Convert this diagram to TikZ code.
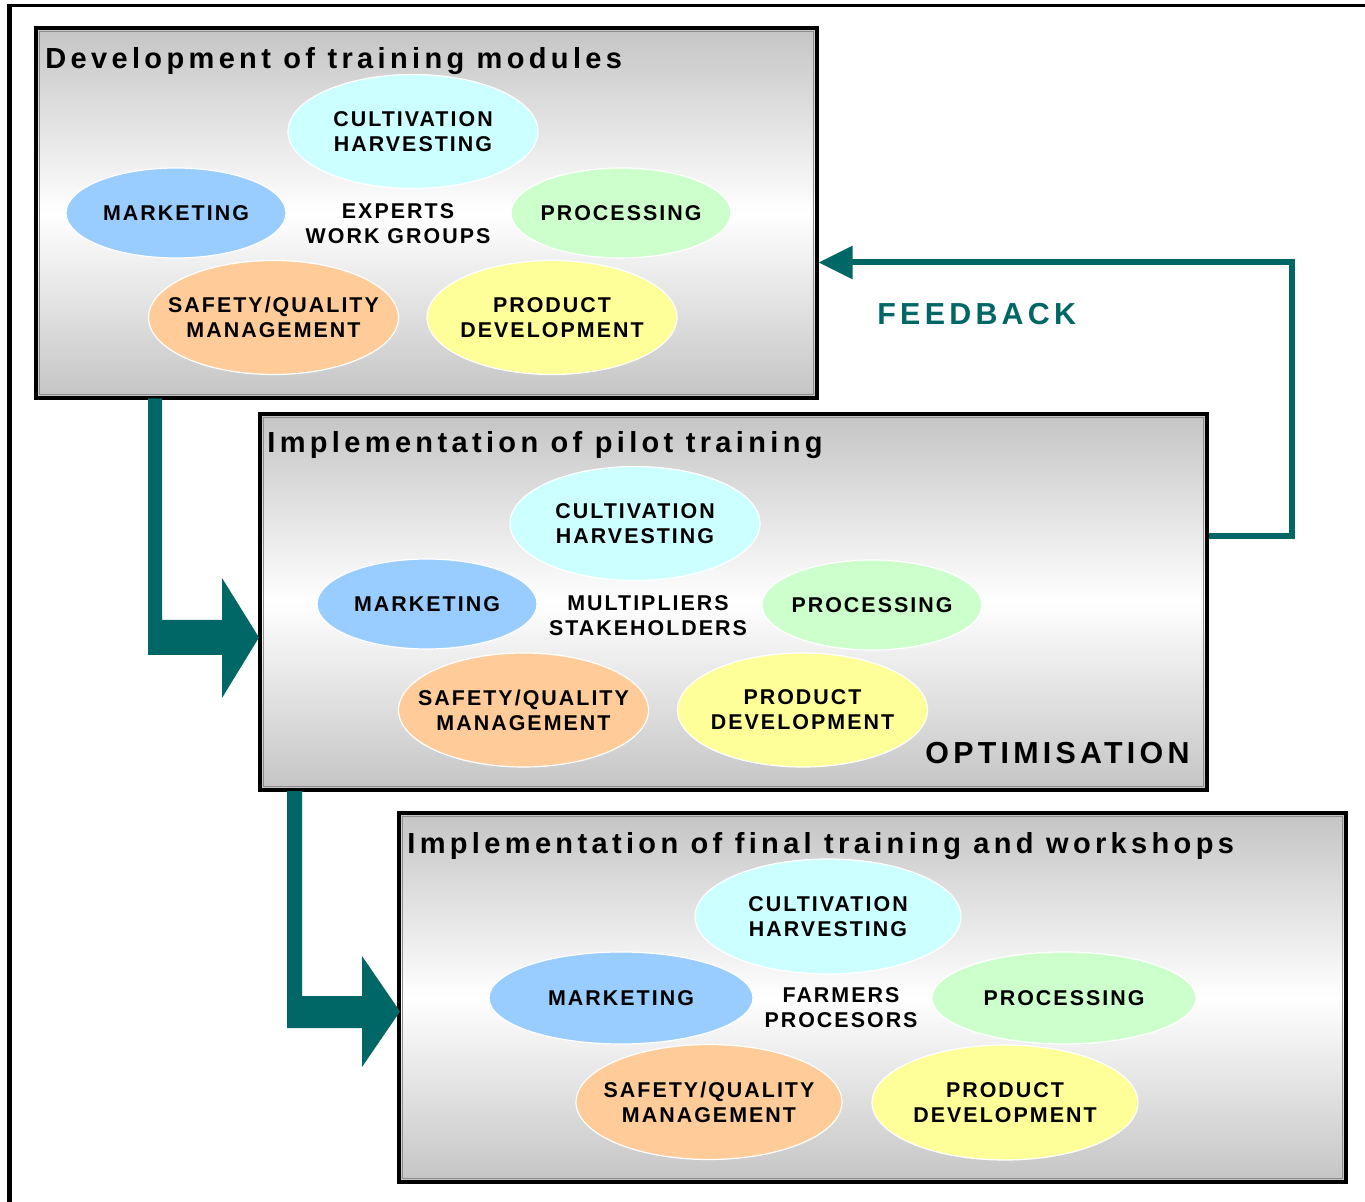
\documentclass[tikz,border=0pt]{standalone}
\usepackage{fontspec}
\setmainfont{Liberation Sans}
\newfontfamily\elfont[LetterSpace=9.5]{Liberation Sans}
\newfontfamily\ttlfont[LetterSpace=15]{Liberation Sans}
\newfontfamily\bigfont[LetterSpace=14]{Liberation Sans}
\usetikzlibrary{shapes.geometric,arrows.meta}
\definecolor{tealc}{RGB}{0,102,102}
\definecolor{cyanc}{RGB}{204,255,255}
\definecolor{bluec}{RGB}{153,204,255}
\definecolor{greenc}{RGB}{204,255,204}
\definecolor{orangec}{RGB}{255,204,153}
\definecolor{yellowc}{RGB}{255,255,153}
\tikzset{
  box/.style={rectangle, draw=black, line width=1.6pt, top color=black!23, bottom color=black!23, middle color=white, inner sep=0pt},
  innerline/.style={draw=black!45, line width=0.5pt},
  el/.style={ellipse, draw=white, line width=0.6pt, inner sep=0pt},
  bigel/.style={el, minimum width=125pt, minimum height=57pt},
  smallel/.style={el, minimum width=110pt, minimum height=45pt},
  bigelw/.style={el, minimum width=133pt, minimum height=57.5pt},
  smallelw/.style={el, minimum width=132pt, minimum height=46pt},
  ctext/.style={align=center, inner sep=0pt, font=\elfont\bfseries\fontsize{10.7}{12.5}\selectfont},
  ttl/.style={anchor=base west, inner sep=0pt, font=\ttlfont\bfseries\fontsize{14.5}{17}\selectfont},
  bigtext/.style={anchor=base west, inner sep=0pt, font=\bigfont\bfseries\fontsize{15.2}{18}\selectfont},
  fatarrow/.style={fill=tealc, draw=none},
  fbline/.style={draw=tealc, line width=3pt, -{Triangle[length=17pt,width=16pt]}}
}
\begin{document}
\begin{tikzpicture}[x=0.5pt,y=-0.5pt]
\useasboundingbox (0,0) rectangle (1365,1202);
% outer frame
\draw[line width=2.5pt] (9.5,1202) -- (9.5,4.5);
\draw[line width=1.75pt] (7,5.7) -- (1365,5.7);

% ---- Box 1 ----
\node[box, minimum width=390.5pt, minimum height=185pt] (b1) at (426.5,213) {};
\draw[innerline] (39.5,31.5) rectangle (813.5,394.5);
\node[ttl] (t1) at (45,69) {Development of training modules};
\node[bigel, fill=cyanc] (c1) at (413,131.5) {};
\node[smallel, fill=bluec] (m1) at (176,213) {};
\node[smallel, fill=greenc] (p1) at (621,213) {};
\node[bigel, fill=orangec] (s1) at (273.5,317.5) {};
\node[bigel, fill=yellowc] (d1) at (552,317.5) {};
\node[ctext] (c1t) at (c1) {CULTIVATION\\HARVESTING};
\node[ctext] (m1t) at (m1) {MARKETING};
\node[ctext] (p1t) at (p1) {PROCESSING};
\node[ctext] (s1t) at (s1) {SAFETY/QUALITY\\MANAGEMENT};
\node[ctext] (d1t) at (d1) {PRODUCT\\DEVELOPMENT};
\node[ctext] (x1) at (398,223.3) {EXPERTS\\WORK GROUPS};

% ---- Box 2 ----
\node[box, minimum width=473.5pt, minimum height=188pt] (b2) at (733.5,602) {};
\draw[innerline] (263.5,417.5) rectangle (1203.5,786.5);
\node[ttl] (t2) at (267,453) {Implementation of pilot training};
\node[bigel, fill=cyanc] (c2) at (635,523.5) {};
\node[smallel, fill=bluec] (m2) at (427,604) {};
\node[smallel, fill=greenc] (p2) at (872,605) {};
\node[bigel, fill=orangec] (s2) at (523.5,710) {};
\node[bigel, fill=yellowc] (d2) at (802.5,710) {};
\node[ctext] (c2t) at (c2) {CULTIVATION\\HARVESTING};
\node[ctext] (m2t) at (m2) {MARKETING};
\node[ctext] (p2t) at (p2) {PROCESSING};
\node[ctext] (s2t) at (s2) {SAFETY/QUALITY\\MANAGEMENT};
\node[ctext] (d2t) at (d2) {PRODUCT\\DEVELOPMENT};
\node[ctext] (x2) at (648,615.5) {MULTIPLIERS\\STAKEHOLDERS};
\node[bigtext] (opt) at (925,763) {OPTIMISATION};

% ---- Box 3 ----
\node[box, minimum width=473.5pt, minimum height=184.5pt] (b3) at (872.5,997.5) {};
\draw[innerline] (402.5,816.5) rectangle (1342.5,1178.5);
\node[ttl] (t3) at (407,853) {Implementation of final training and workshops};
\node[bigelw, fill=cyanc] (c3) at (828,916.5) {};
\node[smallelw, fill=bluec] (m3) at (621,998) {};
\node[smallelw, fill=greenc] (p3) at (1064,998) {};
\node[bigelw, fill=orangec] (s3) at (709,1102) {};
\node[bigelw, fill=yellowc] (d3) at (1005,1102.5) {};
\node[ctext] (c3t) at (c3) {CULTIVATION\\HARVESTING};
\node[ctext] (m3t) at (m3) {MARKETING};
\node[ctext] (p3t) at (p3) {PROCESSING};
\node[ctext] (s3t) at (s3) {SAFETY/QUALITY\\MANAGEMENT};
\node[ctext] (d3t) at (d3) {PRODUCT\\DEVELOPMENT};
\node[ctext] (x3) at (841,1008) {FARMERS\\PROCESORS};

% ---- fat arrows ----
\fill[fatarrow] (148,398.5) -- (162,398.5) -- (162,620) -- (222,620) -- (222,578)
  -- (259,637.5) -- (222,698) -- (222,655) -- (148,655) -- cycle;
\fill[fatarrow] (287,791) -- (302,791) -- (302,996) -- (362,996) -- (362,956)
  -- (400,1011.5) -- (362,1067) -- (362,1028) -- (287,1028) -- cycle;

% ---- feedback ----
\draw[fbline] (b2.east |- 0,536) -- (1292,536) -- (1292,262.5) -- (b1.east |- 0,262.5);
\node[bigtext, text=tealc] (fb) at (877,325) {FEEDBACK};
\end{tikzpicture}
\end{document}
